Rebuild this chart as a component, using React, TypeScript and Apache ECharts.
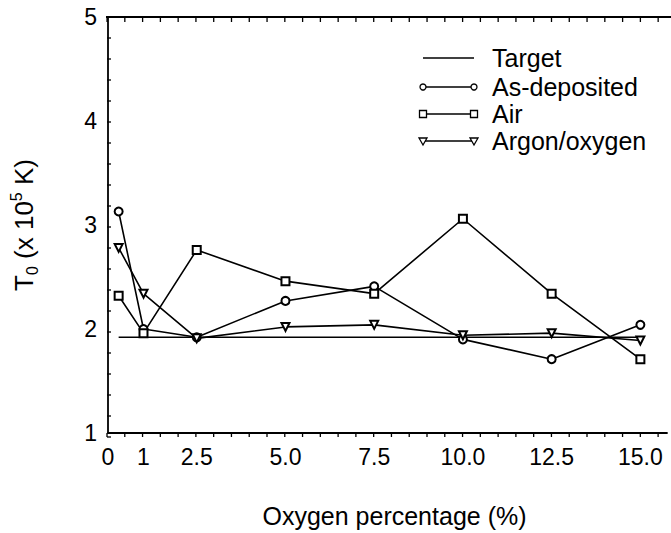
import React, { useEffect, useRef } from "react";
import * as echarts from "echarts";

const xValues = [0.3, 1, 2.5, 5, 7.5, 10, 12.5, 15];
const asDeposited = [3.13, 2.0, 1.92, 2.27, 2.41, 1.9, 1.71, 2.04];
const air = [2.32, 1.96, 2.76, 2.46, 2.34, 3.06, 2.34, 1.71];
const argonOxygen = [2.78, 2.34, 1.91, 2.02, 2.04, 1.94, 1.96, 1.89];
const targetX = [0.3, 15];
const targetY = [1.92, 1.92];

const xTickValues = [0, 1, 2.5, 5, 7.5, 10, 12.5, 15];
const xTickLabels = ["0", "1", "2.5", "5.0", "7.5", "10.0", "12.5", "15.0"];
const yTickValues = [1, 2, 3, 4, 5];
const yTickLabels = ["1", "2", "3", "4", "5"];

const FONT = "'Liberation Sans', Arial, sans-serif";
const BLACK = "#000";

function range(start: number, end: number, step: number) {
  const out: number[] = [];
  for (let v = start; v <= end + 1e-9; v += step) out.push(Math.round(v * 100) / 100);
  return out;
}

export default function App() {
  const ref = useRef<HTMLDivElement>(null);
  useEffect(() => {
    if (!ref.current) return;
    const chart = echarts.init(ref.current, null, { renderer: "svg" });
    const W = 671;
    const H = 533;
    const gridLeft = 107;
    const gridTop = 17;
    const gridRight = 4;
    const gridBottom = 96;
    const X_MAX = 15.75;
    const Y_MIN = 1;
    const Y_MAX = 5;
    const plotW = W - gridLeft - gridRight;
    const plotH = H - gridTop - gridBottom;
    const sx = (v: number) => gridLeft + (v / X_MAX) * plotW;
    const sy = (v: number) => gridTop + ((Y_MAX - v) / (Y_MAX - Y_MIN)) * plotH;

    const lineW = 1.6;
    const mk = (name: string, data: number[], symbol: string, rotate = 0) => ({
      name,
      type: "line",
      data: xValues.map((x, i) => [x, data[i]]),
      symbol,
      symbolSize: 8,
      symbolRotate: rotate,
      showSymbol: true,
      lineStyle: { color: BLACK, width: lineW },
      itemStyle: { color: BLACK, borderColor: BLACK, borderWidth: 1.5 },
      z: 3,
    });

    const legendX0 = 423;
    const legendX1 = 474;
    const legendTextX = 492;
    const legendYs = [58, 87, 114, 141];
    const legendNames = ["Target", "As-deposited", "Air", "Argon/oxygen"];
    const ls = { stroke: BLACK, lineWidth: 1.5 };
    const ms = { stroke: BLACK, lineWidth: 1.3, fill: "#fff" };
    const graphics: any[] = [];

    // top edge of the plot frame, as a thin filled bar
    const topY = sy(Y_MAX);
    graphics.push({
      type: "rect",
      z: 20,
      shape: { x: sx(0) - 1, y: topY - 1, width: W - sx(0) + 1, height: 2 },
      style: { fill: BLACK },
      silent: true,
    });

    legendYs.forEach((y, i) => {
      graphics.push({ type: "line", shape: { x1: legendX0, y1: y, x2: legendX1, y2: y }, style: ls });
      [legendX0, legendX1].forEach((cx) => {
        if (i === 1) graphics.push({ type: "circle", shape: { cx, cy: y, r: 3 }, style: ms });
        if (i === 2) graphics.push({ type: "rect", shape: { x: cx - 3.5, y: y - 3.5, width: 7, height: 7 }, style: ms });
        if (i === 3)
          graphics.push({
            type: "polygon",
            shape: { points: [[cx - 4, y - 3], [cx + 4, y - 3], [cx, y + 4]] },
            style: ms,
          });
      });
      graphics.push({
        type: "text",
        x: legendTextX,
        y,
        style: { text: legendNames[i], font: `25px ${FONT}`, fill: BLACK, textVerticalAlign: "middle", textAlign: "left" },
      });
    });

    // inward ticks
    const tickLen = 4;
    const tStyle = { stroke: BLACK, lineWidth: 1.3 };
    range(0, 15.5, 0.5).forEach((v) => {
      const x = sx(v);
      graphics.push({ type: "line", shape: { x1: x, y1: sy(Y_MIN), x2: x, y2: sy(Y_MIN) - tickLen }, style: tStyle });
      graphics.push({
        type: "rect",
        z: 20,
        shape: { x: x - 0.6, y: topY, width: 1.3, height: tickLen + 1 },
        style: { fill: BLACK },
        silent: true,
      });
    });
    range(1, 5, 0.2).forEach((v) => {
      const y = sy(v);
      graphics.push({ type: "line", shape: { x1: sx(0), y1: y, x2: sx(0) + tickLen, y2: y }, style: tStyle });
    });

    chart.setOption({
      animation: false,
      backgroundColor: "#fff",
      grid: { left: gridLeft, top: gridTop, right: gridRight, bottom: gridBottom, containLabel: false },
      xAxis: {
        type: "value",
        min: 0,
        max: X_MAX,
        position: "bottom",
        name: "Oxygen percentage (%)",
        nameLocation: "middle",
        nameGap: 70,
        nameTextStyle: { fontFamily: FONT, fontSize: 25, color: BLACK, padding: [0, 0, 0, 14] },
        axisLine: { show: true, onZero: false, lineStyle: { color: BLACK, width: 1.8 } },
        axisTick: { show: false },
        axisLabel: {
          customValues: xTickValues,
          formatter: (v: number) => {
            const i = xTickValues.indexOf(v);
            return i >= 0 ? xTickLabels[i] : "";
          },
          fontFamily: FONT,
          fontSize: 23,
          color: BLACK,
          margin: 12,
        },
        splitLine: { show: false },
      },
      yAxis: {
        type: "value",
        min: Y_MIN,
        max: Y_MAX,
        name: "{t|T}{sub|0}{n| (x 10}{sup|5}{n| K)}",
        nameLocation: "middle",
        nameRotate: 90,
        nameGap: 68,
        nameTextStyle: {
          fontFamily: FONT,
          color: BLACK,
          rich: {
            t: { fontSize: 26, fontFamily: FONT, color: BLACK, lineHeight: 32 },
            n: { fontSize: 26, fontFamily: FONT, color: BLACK, lineHeight: 32 },
            sub: { fontSize: 16, fontFamily: FONT, color: BLACK, verticalAlign: "bottom", lineHeight: 32 },
            sup: { fontSize: 16, fontFamily: FONT, color: BLACK, verticalAlign: "top", lineHeight: 32 },
          },
        },
        axisLine: { show: true, onZero: false, lineStyle: { color: BLACK, width: 1.8 } },
        axisTick: { show: false },
        axisLabel: {
          customValues: yTickValues,
          formatter: (v: number) => {
            const i = yTickValues.indexOf(v);
            return i >= 0 ? yTickLabels[i] : "";
          },
          fontFamily: FONT,
          fontSize: 23,
          color: BLACK,
          margin: 11,
        },
        splitLine: { show: false },
      },
      series: [
        {
          name: "Target",
          type: "line",
          data: targetX.map((x, i) => [x, targetY[i]]),
          symbol: "none",
          lineStyle: { color: BLACK, width: lineW },
          z: 2,
        },
        mk("As-deposited", asDeposited, "emptyCircle"),
        mk("Air", air, "emptyRect"),
        mk("Argon/oxygen", argonOxygen, "emptyTriangle", 180),
      ],
      graphic: graphics,
    });

    return () => chart.dispose();
  }, []);
  return (
    <div
      ref={ref}
      style={{ position: "fixed", left: 0, top: 0, width: 671, height: 533, background: "#fff" }}
    />
  );
}
